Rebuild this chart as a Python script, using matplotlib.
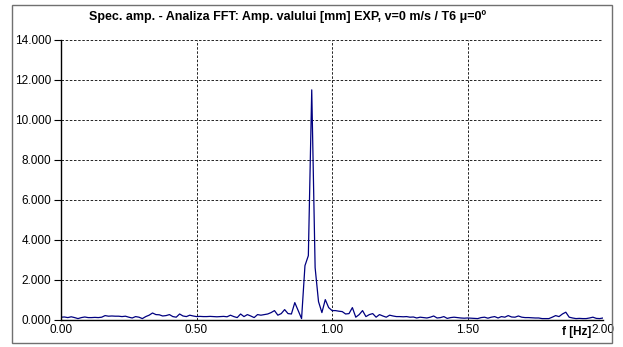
import numpy as np
import matplotlib
matplotlib.use("Agg")
import matplotlib.pyplot as plt
from matplotlib.patches import Rectangle

plt.rcParams['font.family'] = ['Liberation Sans', 'DejaVu Sans']

title = "Spec. amp. - Analiza FFT: Amp. valului [mm] EXP, v=0 m/s / T6 \u03bc=0\u00ba"
xlabel = "f [Hz]"

# spectrum, frequency step 0.0125 Hz from 0 to 2 Hz
df = 0.0125
amp = [
    0.12, 0.13, 0.10, 0.14, 0.10, 0.05, 0.10, 0.13, 0.10, 0.10,
    0.11, 0.10, 0.12, 0.20, 0.17, 0.18, 0.17, 0.17, 0.15, 0.17,
    0.12, 0.08, 0.15, 0.12, 0.05, 0.15, 0.22, 0.33, 0.25, 0.24,
    0.18, 0.20, 0.25, 0.15, 0.12, 0.28, 0.18, 0.15, 0.22, 0.18,
    0.15, 0.16, 0.15, 0.15, 0.16, 0.15, 0.14, 0.15, 0.16, 0.14,
    0.22, 0.15, 0.10, 0.28, 0.15, 0.25, 0.18, 0.10, 0.25, 0.22,
    0.25, 0.28, 0.35, 0.45, 0.22, 0.30, 0.50, 0.30, 0.28, 0.85,
    0.45, 0.05, 2.70, 3.20, 11.50, 2.60, 0.90, 0.35, 1.00, 0.60,
    0.45, 0.45, 0.42, 0.40, 0.28, 0.30, 0.60, 0.12, 0.25, 0.45,
    0.15, 0.25, 0.30, 0.12, 0.25, 0.18, 0.12, 0.22, 0.18, 0.15,
    0.15, 0.14, 0.15, 0.12, 0.13, 0.08, 0.12, 0.10, 0.08, 0.12,
    0.18, 0.08, 0.10, 0.15, 0.06, 0.10, 0.12, 0.10, 0.08, 0.07,
    0.08, 0.07, 0.06, 0.05, 0.10, 0.12, 0.07, 0.12, 0.15, 0.08,
    0.15, 0.12, 0.20, 0.13, 0.12, 0.18, 0.12, 0.10, 0.10, 0.09,
    0.08, 0.08, 0.05, 0.05, 0.05, 0.12, 0.20, 0.15, 0.28, 0.37,
    0.12, 0.08, 0.05, 0.06, 0.05, 0.05, 0.08, 0.12, 0.06, 0.05,
    0.08,
]
freq = np.arange(len(amp)) * df

xticks = [0.0, 0.5, 1.0, 1.5, 2.0]
yticks = [0, 2, 4, 6, 8, 10, 12, 14]

fig = plt.figure(figsize=(6.23, 3.47), dpi=100)
ax = fig.add_axes([0.098, 0.079, 0.870, 0.806])

ax.plot(freq, amp, color='#000080', lw=0.9)

ax.set_xlim(0, 2.0)
ax.set_ylim(0, 14)
ax.set_xticks(xticks)
ax.set_yticks(yticks)
ax.set_xticklabels(["%.2f" % v for v in xticks], fontsize=8.5)
ax.set_yticklabels(["%.3f" % v for v in yticks], fontsize=8.5)
ax.tick_params(axis='y', direction='out', length=5, width=0.8, pad=2)
ax.tick_params(axis='x', direction='out', length=0, pad=3)

ax.grid(True, color='black', linestyle=(0, (3, 2)), linewidth=0.6)
ax.set_axisbelow(True)
for s in ['top', 'right']:
    ax.spines[s].set_visible(False)
for s in ['left', 'bottom']:
    ax.spines[s].set_linewidth(1.0)

fig.text(0.461, 0.953, title, fontsize=9, fontweight='bold', ha='center', va='center')
fig.text(0.925, 0.043, xlabel, fontsize=8.5, fontweight='bold', ha='center', va='center')

fig.patches.append(Rectangle((0.019, 0.012), 0.963, 0.974, transform=fig.transFigure,
                             fill=False, edgecolor='#707070', linewidth=1.0))

fig.savefig("out.png", dpi=100)
